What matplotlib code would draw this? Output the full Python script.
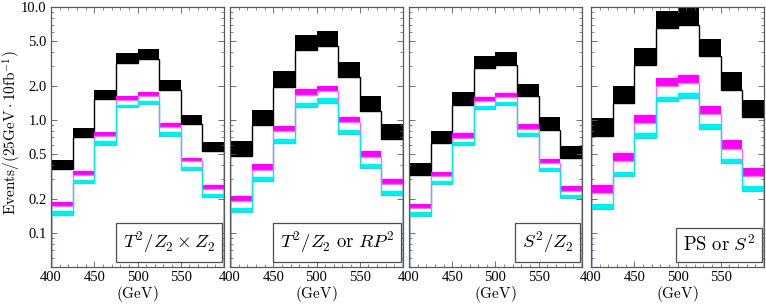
import matplotlib
matplotlib.use('Agg')
import matplotlib.pyplot as plt
import matplotlib.ticker as mticker
import numpy as np

plt.rcParams['font.family'] = ['Liberation Serif', 'DejaVu Serif']
plt.rcParams['mathtext.fontset'] = 'cm'

# bin edges in GeV
edges = [400, 425, 450, 475, 500, 525, 550, 575, 600]

panel_labels = [r'$T^2/Z_2\times Z_2$', r'$T^2/Z_2\ \mathrm{or}\ RP^2$',
                r'$S^2/Z_2$', r'$\mathrm{PS\ or}\ S^2$']

# band limits (low, high) per panel, per bin
black_lo = [[0.37, 0.71, 1.53, 3.19, 3.49, 1.85, 0.915, 0.528],
            [0.477, 0.91, 1.96, 4.19, 4.49, 2.39, 1.19, 0.684],
            [0.328, 0.625, 1.37, 2.88, 3.09, 1.64, 0.82, 0.465],
            [0.726, 1.40, 3.05, 6.52, 6.98, 3.66, 1.85, 1.06]]
black_hi = [[0.446, 0.849, 1.85, 3.92, 4.25, 2.24, 1.11, 0.634],
            [0.647, 1.23, 2.70, 5.69, 6.10, 3.26, 1.62, 0.92],
            [0.416, 0.805, 1.76, 3.71, 4.00, 2.10, 1.06, 0.593],
            [1.04, 2.01, 4.34, 9.16, 10.0, 5.25, 2.64, 1.51]]

magenta_lo = [[0.172, 0.328, 0.716, 1.51, 1.63, 0.867, 0.431, 0.247],
              [0.190, 0.363, 0.794, 1.67, 1.79, 0.953, 0.471, 0.272],
              [0.165, 0.317, 0.693, 1.46, 1.59, 0.832, 0.414, 0.237],
              [0.226, 0.431, 0.94, 1.99, 2.12, 1.13, 0.557, 0.321]]
magenta_hi = [[0.188, 0.356, 0.778, 1.62, 1.77, 0.94, 0.464, 0.266],
              [0.214, 0.411, 0.891, 1.88, 2.01, 1.06, 0.528, 0.303],
              [0.182, 0.349, 0.762, 1.61, 1.73, 0.915, 0.455, 0.261],
              [0.266, 0.511, 1.11, 2.35, 2.52, 1.32, 0.661, 0.376]]

cyan_lo = [[0.145, 0.279, 0.605, 1.29, 1.38, 0.726, 0.361, 0.208],
           [0.152, 0.286, 0.625, 1.30, 1.42, 0.757, 0.376, 0.215],
           [0.142, 0.273, 0.597, 1.26, 1.36, 0.716, 0.356, 0.204],
           [0.164, 0.317, 0.689, 1.46, 1.58, 0.832, 0.414, 0.235]]
cyan_hi = [[0.158, 0.294, 0.647, 1.36, 1.46, 0.778, 0.384, 0.223],
           [0.166, 0.311, 0.679, 1.41, 1.55, 0.816, 0.408, 0.237],
           [0.152, 0.290, 0.634, 1.34, 1.45, 0.767, 0.379, 0.218],
           [0.181, 0.349, 0.762, 1.61, 1.73, 0.915, 0.455, 0.259]]

W, H = 766, 306
fig = plt.figure(figsize=(W / 100, H / 100), dpi=100)
lefts = [51, 230, 409, 591]
pw = 173
bottom, top = 267, 7

frame = '0.35'
for i in range(4):
    ax = fig.add_axes([lefts[i] / W, 1 - bottom / H, pw / W, (bottom - top) / H])
    for lo, hi, col, lc in [(black_lo[i], black_hi[i], 'black', 'black'),
                            (magenta_lo[i], magenta_hi[i], '#ff00ff', '#ff66ff'),
                            (cyan_lo[i], cyan_hi[i], '#00f0f0', '#00e8e8')]:
        ax.stairs(hi, edges, baseline=lo, fill=True, color=col, lw=0)
        ax.stairs(lo, edges, color=lc, lw=1.0)
    ax.set_yscale('log')
    ax.set_ylim(0.05, 10)
    ax.set_xlim(400, 600)
    ax.set_yticks([0.1, 0.2, 0.5, 1, 2, 5, 10])
    ax.yaxis.set_minor_locator(mticker.LogLocator(subs=np.arange(1, 10)))
    ax.yaxis.set_minor_formatter(mticker.NullFormatter())
    if i == 0:
        ax.set_yticklabels(['0.1', '0.2', '0.5', '1.0', '2.0', '5.0', '10.0'])
        ax.set_ylabel(r'$\mathrm{Events}/(25\mathrm{GeV}\cdot10\mathrm{fb}^{-1})$',
                      fontsize=11)
        ax.yaxis.set_label_coords(-0.163, 0.515)
    else:
        ax.set_yticklabels([])
    ax.set_xticks([400, 450, 500, 550])
    ax.set_xticklabels(['400', '450', '500', '550'])
    ax.xaxis.set_minor_locator(mticker.MultipleLocator(10))
    ax.tick_params(which='both', direction='in', top=True, right=True, color=frame,
                   labelsize=10.5, pad=3)
    ax.tick_params(which='major', length=4, width=0.6)
    ax.tick_params(which='minor', length=2, width=0.5)
    for s in ax.spines.values():
        s.set_color(frame)
        s.set_linewidth(0.9)
    ax.set_xlabel(r'$(\mathrm{GeV})$', fontsize=11, labelpad=0)
    ax.text(0.948, 0.045, panel_labels[i], transform=ax.transAxes, ha='right', va='bottom',
            fontsize=13.5,
            bbox=dict(boxstyle='square,pad=0.35', fc='white', ec='0.3', lw=0.9))

fig.savefig('out.png', dpi=100)
